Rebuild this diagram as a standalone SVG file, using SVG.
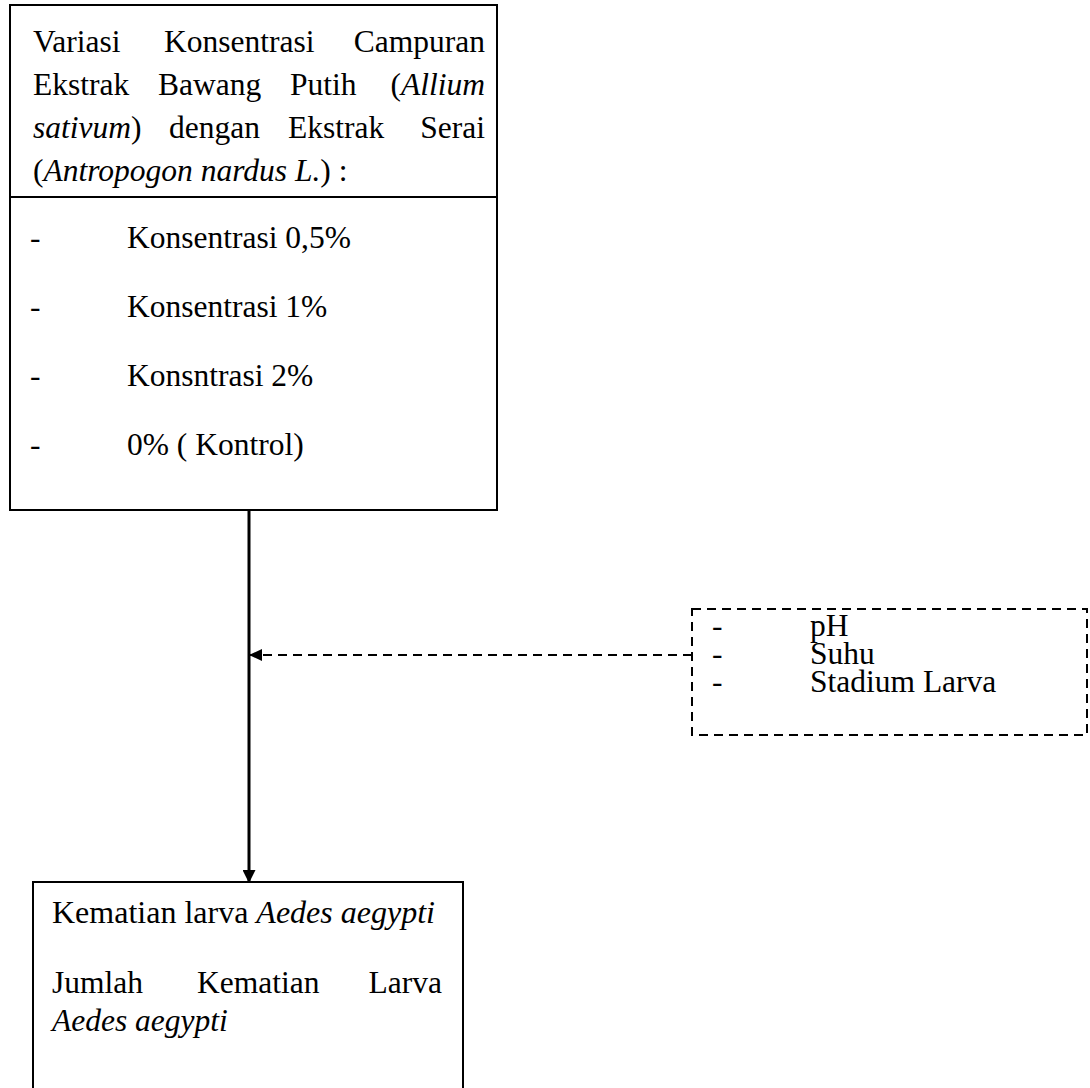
<svg xmlns="http://www.w3.org/2000/svg" width="1090" height="1088" viewBox="0 0 1090 1088">
<style>
text{font-family:'Liberation Serif','Tinos','Times New Roman','DejaVu Serif',serif;font-size:31.5px;fill:#000}
.i{font-style:italic}
.box{fill:#fff;stroke:#000;stroke-width:2}
.dbox{fill:none;stroke:#000;stroke-width:2;stroke-dasharray:9,6}
.conn{stroke:#000;stroke-width:3;fill:none}
.dconn{stroke:#000;stroke-width:2;fill:none;stroke-dasharray:9,6}
</style>
<defs>
<marker id="ah" markerWidth="13" markerHeight="13" refX="12" refY="6.5" orient="auto" markerUnits="userSpaceOnUse"><path d="M0,0 L13,6.5 L0,13 Z" fill="#000"/></marker>
<marker id="ahs" markerWidth="13" markerHeight="12" refX="12" refY="6" orient="auto" markerUnits="userSpaceOnUse"><path d="M0,0 L13,6 L0,12 Z" fill="#000"/></marker>
</defs>
<rect width="1090" height="1088" fill="#fff"/>
<g id="connectors">
<line class="conn" x1="249" y1="511" x2="249" y2="882" marker-end="url(#ah)"/>
<line class="dconn" x1="692" y1="655" x2="250" y2="655" marker-end="url(#ahs)"/>
</g>
<g id="node-variasi">
<rect class="box" x="10" y="5" width="487" height="505"/>
<line x1="10" y1="197" x2="497" y2="197" stroke="#000" stroke-width="2"/>
<text y="52"><tspan x="33">Variasi</tspan><tspan x="164">Konsentrasi</tspan><tspan x="485" text-anchor="end">Campuran</tspan></text>
<text y="95"><tspan x="33">Ekstrak</tspan><tspan x="158">Bawang</tspan><tspan x="290">Putih</tspan><tspan x="485" text-anchor="end">(<tspan class="i">Allium</tspan></tspan></text>
<text y="138"><tspan x="33"><tspan class="i">sativum</tspan>)</tspan><tspan x="169">dengan</tspan><tspan x="288">Ekstrak</tspan><tspan x="485" text-anchor="end">Serai</tspan></text>
<text x="33" y="181">(<tspan class="i">Antropogon nardus L.</tspan>) :</text>
<text x="30" y="248">-</text><text x="127" y="248">Konsentrasi 0,5%</text>
<text x="30" y="317">-</text><text x="127" y="317">Konsentrasi 1%</text>
<text x="30" y="386">-</text><text x="127" y="386">Konsntrasi 2%</text>
<text x="30" y="455">-</text><text x="127" y="455">0% ( Kontrol)</text>
</g>
<g id="node-kontrol-var">
<rect class="dbox" x="692" y="609" width="395" height="126"/>
<text x="712" y="636">-</text><text x="810" y="636">pH</text>
<text x="712" y="664">-</text><text x="810" y="664">Suhu</text>
<text x="712" y="692">-</text><text x="810" y="692">Stadium Larva</text>
</g>
<g id="node-kematian">
<rect class="box" x="33" y="882" width="430" height="215"/>
<text x="52" y="923" style="font-size:32px">Kematian larva <tspan class="i">Aedes aegypti</tspan></text>
<text y="993"><tspan x="52">Jumlah</tspan><tspan x="197">Kematian</tspan><tspan x="442" text-anchor="end">Larva</tspan></text>
<text x="52" y="1031" class="i">Aedes aegypti</text>
</g>
</svg>
